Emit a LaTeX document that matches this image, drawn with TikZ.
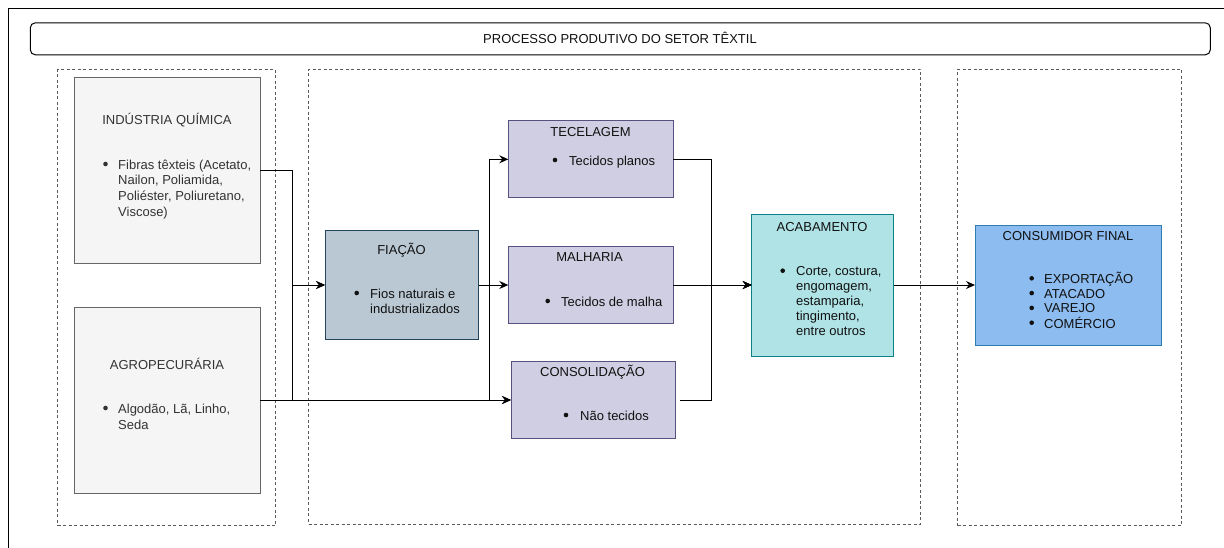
\documentclass[tikz,border=0pt]{standalone}
\usepackage{fontspec}
\setmainfont{Liberation Sans}
\usetikzlibrary{arrows.meta}
\definecolor{qfill}{HTML}{F5F5F5}
\definecolor{qdraw}{HTML}{666666}
\definecolor{qtext}{HTML}{333333}
\definecolor{fiafill}{HTML}{BAC8D3}
\definecolor{fiadraw}{HTML}{23445D}
\definecolor{purfill}{HTML}{D0CEE2}
\definecolor{purdraw}{HTML}{56517E}
\definecolor{acfill}{HTML}{B0E3E6}
\definecolor{acdraw}{HTML}{0E8088}
\definecolor{cffill}{HTML}{8DBCF0}
\definecolor{cfdraw}{HTML}{2F7DAF}
\definecolor{dashc}{HTML}{5A5A5A}
\definecolor{txt}{HTML}{111111}
\begin{document}
\begin{tikzpicture}[x=1pt,y=-1pt,
  every node/.style={font=\fontsize{13}{15}\selectfont, text=txt},
  box/.style={draw, line width=1pt, inner sep=0pt, outer sep=0pt},
  grey/.style={box, fill=qfill, draw=qdraw},
  fiabox/.style={box, fill=fiafill, draw=fiadraw},
  purbox/.style={box, fill=purfill, draw=purdraw},
  acbox/.style={box, fill=acfill, draw=acdraw},
  cfbox/.style={box, fill=cffill, draw=cfdraw},
  group/.style={draw=dashc, line width=1pt, dash pattern=on 3pt off 2.5pt, inner sep=0pt, outer sep=0pt},
  ttl/.style={anchor=base, inner sep=0pt},
  lst/.style={anchor=base west, inner sep=0pt, align=left},
  arr/.style={line width=1pt, -{Stealth[length=9pt,width=8pt,inset=3pt]}},
]
\useasboundingbox (0,0) rectangle (1224,547);
% outer frame
\draw[line width=1pt] (8,560) -- (8,8) -- (1240,8);
% title
\node[draw, line width=1pt, rounded corners=5pt, minimum width=1180pt, minimum height=32pt, inner sep=0pt] (title) at (620.3,38.8) {};
\node[ttl] (titletext) at (620,43.5) {PROCESSO PRODUTIVO DO SETOR TÊXTIL};
% groups
\node[group, minimum width=218pt, minimum height=456pt] (gleft) at (166.7,297.6) {};
\node[group, minimum width=612pt, minimum height=455pt] (gmid) at (614.5,296.5) {};
\node[group, minimum width=224pt, minimum height=456.5pt] (gright) at (1069.7,297.25) {};
% boxes
\node[grey, minimum width=186pt, minimum height=186pt] (q) at (167,170) {};
\node[grey, minimum width=186pt, minimum height=186pt] (agro) at (167,400) {};
\node[fiabox, minimum width=153.5pt, minimum height=109pt] (fia) at (401.75,285) {};
\node[purbox, minimum width=165pt, minimum height=76.7pt] (tec) at (590.8,159.3) {};
\node[purbox, minimum width=165pt, minimum height=76.6pt] (mal) at (590.8,285) {};
\node[purbox, minimum width=164pt, minimum height=76.6pt] (cons) at (593,400) {};
\node[acbox, minimum width=142pt, minimum height=142pt] (acab) at (822.7,285) {};
\node[cfbox, minimum width=186pt, minimum height=120pt] (cf) at (1068,285) {};
% texts: QUIMICA
\node[ttl, text=qtext] (qt) at (167,124) {INDÚSTRIA QUÍMICA};
\fill[qtext] (105.5,164) circle (2.3);
\node[lst, text=qtext, font=\fontsize{13}{15.9}\selectfont] (ql) at (118,169) {\begin{tabular}[t]{@{}l@{}}Fibras têxteis (Acetato,\\Nailon, Poliamida,\\Poliéster, Poliuretano,\\Viscose)\end{tabular}};
% AGRO
\node[ttl, text=qtext] (at) at (167,369) {AGROPECURÁRIA};
\fill[qtext] (105.5,408) circle (2.3);
\node[lst, text=qtext, font=\fontsize{13}{16}\selectfont] (al) at (118,413) {\begin{tabular}[t]{@{}l@{}}Algodão, Lã, Linho,\\Seda\end{tabular}};
% FIACAO
\node[ttl] (ft) at (401.5,254) {FIAÇÃO};
\fill[txt] (356.7,293) circle (2.3);
\node[lst] (fl) at (370,298) {\begin{tabular}[t]{@{}l@{}}Fios naturais e\\industrializados\end{tabular}};
% TECELAGEM
\node[ttl] (tt) at (590.5,136) {TECELAGEM};
\fill[txt] (555,160) circle (2.3);
\node[lst] (tl) at (569,165) {Tecidos planos};
% MALHARIA
\node[ttl] (mt) at (589.5,261.5) {MALHARIA};
\fill[txt] (547.7,301) circle (2.3);
\node[lst] (ml) at (561,306) {Tecidos de malha};
% CONSOLIDACAO
\node[ttl] (ct) at (592.5,376.5) {CONSOLIDAÇÃO};
\fill[txt] (566,415) circle (2.3);
\node[lst] (cl) at (580,420) {Não tecidos};
% ACABAMENTO
\node[ttl] (act) at (822,231) {ACABAMENTO};
\fill[txt] (782.7,270.7) circle (2.3);
\node[lst] (acl) at (796,275.7) {\begin{tabular}[t]{@{}l@{}}Corte, costura,\\engomagem,\\estamparia,\\tingimento,\\entre outros\end{tabular}};
% CONSUMIDOR FINAL
\node[ttl] (cft) at (1068,240) {CONSUMIDOR FINAL};
\fill[txt] (1031.7,278.3) circle (2.3);
\fill[txt] (1031.7,293.1) circle (2.3);
\fill[txt] (1031.7,307.9) circle (2.3);
\fill[txt] (1031.7,322.7) circle (2.3);
\node[lst, font=\fontsize{13}{14.8}\selectfont] (cfl) at (1044,283.3) {\begin{tabular}[t]{@{}l@{}}EXPORTAÇÃO\\ATACADO\\VAREJO\\COMÉRCIO\end{tabular}};
% connectors
\draw[arr] (q.east) -- ++(32.5,0) |- (fia.west);
\draw[arr] (agro.east) -- ++(32.5,0) |- (fia.west);
\draw[arr] (agro.east) -- (cons.west);
\draw[arr] (fia.east) -- (mal.west);
\draw[arr] (fia.east) -- ++(11,0) |- (tec.west);
\draw[arr] (fia.east) -- ++(11,0) |- (cons.west);
\draw[arr] (tec.east) -- ++(38.5,0) |- (acab.west);
\draw[arr] (mal.east) -- (acab.west);
\draw[arr] ([xshift=5pt]cons.east) -- ++(31.7,0) |- (acab.west);
\draw[arr] (acab.east) -- (cf.west);
\end{tikzpicture}
\end{document}
